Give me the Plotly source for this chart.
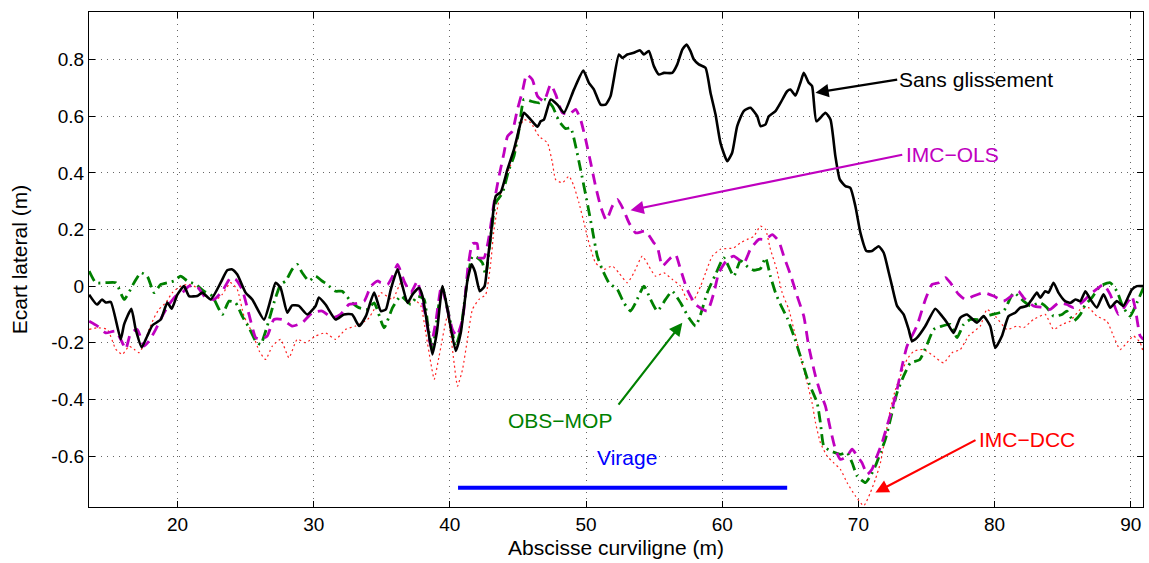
import plotly.graph_objects as go

# ---- Sans glissement (black, solid)
x_sans = [13.51,14.09,14.46,14.73,15.10,15.83,16.08,16.61,16.93,17.37,17.78,18.15,18.77,19.25,19.57,19.99,20.48,20.84,21.45,21.82,22.44,23.17,23.65,24.02,24.39,25.00,25.49,26.35,26.84,27.20,27.57,28.06,28.42,28.91,29.52,30.14,30.38,30.87,31.61,32.22,32.82,33.34,33.83,34.44,34.93,35.30,35.66,36.16,36.52,36.89,37.26,37.74,37.99,38.36,38.72,39.04,39.46,39.82,40.43,40.80,41.29,41.60,41.85,42.20,42.55,42.80,43.00,43.37,43.74,44.23,44.71,45.20,45.44,45.94,46.43,46.67,46.91,47.40,47.89,48.38,49.11,49.80,50.21,50.58,51.07,51.44,51.80,52.41,52.66,53.03,53.51,53.95,54.25,54.61,54.98,55.35,55.72,56.33,56.70,57.07,57.38,57.67,57.92,58.28,58.77,59.14,59.51,59.87,60.37,60.73,61.10,61.58,62.07,62.57,62.81,63.18,63.42,63.91,64.28,64.77,65.01,65.38,65.74,65.99,66.35,66.60,66.92,67.58,67.95,68.31,68.63,69.05,69.41,69.78,70.15,70.59,71.00,71.49,71.86,72.22,72.47,72.84,73.32,73.69,73.94,74.31,74.92,75.65,76.14,76.51,76.99,77.48,77.97,78.71,79.19,79.68,80.05,80.54,81.03,81.52,81.89,82.38,82.74,83.11,83.35,83.72,83.96,84.33,84.69,85.18,85.58,85.94,86.30,86.67,87.04,87.51,88.00,88.49,88.98,89.46,90.08,90.45,90.93]
y_sans = [-0.03,-0.065,-0.047,-0.058,-0.056,-0.188,-0.135,-0.08,-0.153,-0.216,-0.176,-0.139,-0.118,-0.058,-0.08,-0.03,0.0,-0.035,-0.035,-0.023,-0.047,0.012,0.056,0.059,0.041,-0.023,-0.047,-0.118,-0.047,0.012,-0.006,-0.094,-0.068,-0.07,-0.1,-0.07,-0.04,-0.065,-0.118,-0.1,-0.1,-0.141,-0.106,-0.023,-0.088,-0.082,-0.012,0.059,0.0,-0.059,-0.029,-0.006,-0.035,-0.141,-0.241,-0.165,0.0,-0.082,-0.229,-0.165,0.02,0.077,0.05,-0.018,0.0,0.1,0.176,0.318,0.332,0.412,0.483,0.577,0.612,0.588,0.563,0.582,0.588,0.659,0.641,0.612,0.694,0.761,0.718,0.694,0.641,0.641,0.671,0.818,0.806,0.818,0.824,0.833,0.818,0.83,0.777,0.747,0.753,0.753,0.783,0.835,0.853,0.83,0.8,0.783,0.771,0.683,0.606,0.506,0.441,0.471,0.565,0.618,0.63,0.6,0.565,0.571,0.6,0.618,0.647,0.688,0.694,0.673,0.718,0.753,0.718,0.706,0.582,0.612,0.588,0.459,0.377,0.353,0.347,0.282,0.188,0.124,0.124,0.141,0.118,0.05,0.0,-0.07,-0.1,-0.153,-0.194,-0.182,-0.141,-0.08,-0.106,-0.129,-0.165,-0.112,-0.1,-0.129,-0.106,-0.141,-0.218,-0.176,-0.106,-0.094,-0.076,-0.07,-0.047,-0.023,-0.041,-0.018,-0.023,0.012,-0.023,-0.053,-0.059,-0.047,-0.053,-0.018,-0.047,-0.076,-0.029,-0.076,-0.053,-0.07,-0.012,0.0,0.0]

# ---- IMC-OLS (magenta, dashed)
x_ols = [13.51,14.12,14.73,15.47,15.95,16.20,16.57,17.05,17.54,17.91,18.40,18.88,19.38,19.87,20.35,20.84,21.45,22.07,22.68,23.29,23.90,24.27,24.75,25.25,25.74,26.10,26.59,27.08,27.69,28.42,29.16,29.89,30.62,31.36,31.97,32.58,33.07,33.71,34.20,34.69,34.93,35.42,35.79,36.16,36.64,37.13,37.62,37.87,38.23,38.60,38.97,39.38,39.82,40.19,40.51,40.93,41.34,41.66,42.00,42.14,42.51,42.88,43.24,43.61,43.98,44.23,44.59,44.96,45.33,45.64,46.06,46.43,46.91,47.40,47.77,48.26,48.75,49.24,49.60,49.97,50.34,50.70,51.07,51.49,51.93,52.30,52.74,53.15,53.64,54.37,54.98,55.23,55.60,56.21,56.57,56.94,57.43,58.04,58.90,59.39,59.75,60.37,60.85,61.59,62.07,62.69,63.18,63.67,64.15,64.52,65.01,65.50,65.99,66.35,66.85,67.21,67.58,67.95,68.31,68.68,69.17,69.54,69.91,70.27,70.64,71.00,71.37,71.74,72.10,72.47,72.84,73.21,73.57,74.30,74.92,75.41,75.90,76.39,76.75,77.36,77.85,78.46,79.19,79.93,80.66,81.40,81.76,82.13,82.86,83.60,84.09,84.70,85.31,85.80,86.53,87.02,87.63,88.00,88.49,89.10,89.59,90.08,90.32,90.69,90.93]
y_ols = [-0.124,-0.141,-0.165,-0.159,-0.2,-0.223,-0.165,-0.153,-0.212,-0.194,-0.153,-0.106,-0.065,-0.035,-0.023,0.0,-0.002,-0.041,-0.047,-0.018,0.03,0.024,-0.012,-0.1,-0.182,-0.188,-0.176,-0.118,-0.118,-0.141,-0.129,-0.094,-0.088,-0.112,-0.1,-0.065,-0.062,-0.053,0.0,0.018,0.012,0.006,0.035,0.077,0.018,-0.023,0.018,-0.035,-0.106,-0.212,-0.124,0.0,-0.082,-0.153,-0.176,-0.118,0.07,0.15,0.15,0.1,0.1,0.176,0.294,0.388,0.471,0.529,0.547,0.624,0.688,0.747,0.729,0.671,0.653,0.712,0.677,0.612,0.606,0.624,0.588,0.518,0.436,0.353,0.282,0.233,0.282,0.306,0.271,0.224,0.188,0.194,0.153,0.141,0.071,0.1,0.112,0.059,-0.012,-0.065,-0.088,-0.023,0.047,0.094,0.106,0.082,0.13,0.165,0.165,0.182,0.159,0.106,0.041,-0.035,-0.106,-0.212,-0.318,-0.376,-0.424,-0.506,-0.576,-0.612,-0.6,-0.576,-0.6,-0.624,-0.665,-0.647,-0.6,-0.553,-0.494,-0.435,-0.365,-0.282,-0.212,-0.14,-0.047,0.006,0.012,0.03,0.012,-0.029,-0.047,-0.035,-0.023,-0.035,-0.053,-0.029,-0.018,-0.041,-0.07,-0.076,-0.082,-0.059,-0.065,-0.076,-0.053,-0.029,-0.006,0.006,-0.029,-0.1,-0.07,-0.035,-0.076,-0.176,-0.188]

# ---- OBS-MOP (green, dash-dot)
x_mop = [13.51,14.00,14.73,15.47,16.08,16.81,17.30,17.78,18.28,18.77,19.25,19.74,20.23,20.72,21.34,21.94,22.55,23.29,23.78,24.27,24.75,25.25,25.74,26.10,26.59,27.08,27.57,27.94,28.42,28.79,29.16,29.65,30.14,30.62,30.99,31.61,32.09,32.82,33.31,33.95,34.44,35.17,35.79,36.40,37.13,37.62,38.11,38.36,38.72,39.21,39.46,39.95,40.43,40.80,41.29,41.66,42.02,42.39,42.63,43.00,43.37,43.86,44.34,44.71,45.08,45.44,45.94,46.55,47.04,47.53,48.02,48.51,48.87,49.24,49.60,50.09,50.46,50.83,51.19,51.68,52.30,52.78,53.27,53.64,54.25,54.74,55.23,55.84,56.33,56.94,57.55,58.04,58.41,58.90,59.51,60.12,60.85,61.34,61.95,62.32,62.81,63.18,63.54,63.91,64.28,64.77,65.26,65.74,66.35,66.97,67.21,67.46,67.95,68.68,69.17,69.54,69.91,70.52,70.88,71.25,71.62,71.98,72.35,72.84,73.32,73.82,74.50,75.04,75.53,76.14,76.75,77.24,77.73,78.22,78.83,79.32,80.66,81.40,82.13,82.62,83.35,83.85,84.33,84.95,85.31,85.80,86.30,86.67,87.15,87.76,88.49,88.98,89.46,89.95,90.45,90.93]
y_mop = [0.053,0.012,0.012,0.012,-0.047,0.012,0.047,0.035,-0.023,0.006,0.012,0.018,0.035,0.018,0.006,-0.018,-0.035,-0.1,-0.053,-0.059,-0.106,-0.147,-0.194,-0.206,-0.141,-0.059,0.006,0.018,0.059,0.077,0.047,0.018,0.035,0.018,0.006,-0.018,-0.018,-0.059,-0.076,-0.082,-0.059,-0.147,-0.076,-0.035,-0.065,-0.035,-0.047,-0.129,-0.224,-0.059,-0.006,-0.106,-0.212,-0.153,0.024,0.106,0.1,0.082,0.04,0.176,0.294,0.329,0.412,0.459,0.553,0.659,0.653,0.647,0.659,0.635,0.582,0.556,0.559,0.494,0.412,0.294,0.2,0.106,0.059,0.012,-0.012,-0.059,-0.088,-0.059,0.0,-0.047,-0.088,-0.047,-0.018,-0.059,-0.112,-0.141,-0.1,-0.023,0.041,0.1,0.035,0.09,0.065,0.056,0.062,0.1,0.035,-0.023,-0.065,-0.112,-0.176,-0.247,-0.341,-0.412,-0.482,-0.565,-0.582,-0.594,-0.588,-0.624,-0.671,-0.694,-0.671,-0.635,-0.588,-0.541,-0.471,-0.376,-0.318,-0.271,-0.26,-0.206,-0.153,-0.141,-0.135,-0.182,-0.135,-0.118,-0.118,-0.106,-0.088,-0.023,-0.053,-0.07,-0.059,-0.076,-0.106,-0.1,-0.088,-0.124,-0.1,-0.065,-0.041,0.0,0.012,-0.018,-0.076,-0.106,-0.059,-0.006]

# ---- IMC-DCC (red, dotted)
x_dcc = [13.51,14.12,14.85,15.47,15.95,16.44,16.81,17.18,17.54,17.91,18.28,18.64,19.13,19.62,20.23,20.84,21.45,22.07,22.68,23.29,23.90,24.39,24.88,25.49,26.00,26.47,26.96,27.57,28.18,28.79,29.41,30.14,30.87,31.61,32.34,33.07,33.95,34.44,34.93,35.79,36.40,36.89,37.38,37.87,38.23,38.60,38.85,39.21,39.82,40.07,40.31,40.56,40.93,41.29,41.66,42.14,42.63,43.00,43.24,43.61,43.98,44.34,44.71,45.08,45.44,45.94,46.55,47.16,47.53,47.77,48.26,48.75,49.11,49.48,49.85,50.21,50.70,51.31,51.93,52.41,53.03,53.51,54.13,54.61,55.11,55.72,56.33,56.94,57.43,57.92,58.41,58.78,59.27,59.87,60.85,61.34,61.84,62.32,62.81,63.18,63.54,64.00,64.40,64.89,65.26,65.74,66.23,66.60,66.85,67.21,67.70,68.19,68.68,69.17,69.78,70.39,70.88,71.25,71.62,71.98,72.35,72.72,73.08,73.57,74.06,74.79,75.53,76.26,76.88,77.48,78.09,78.95,79.44,80.05,80.91,81.64,82.13,82.86,83.72,84.33,84.95,85.55,86.30,86.90,87.51,88.25,88.73,89.22,89.72,90.20,90.69,90.93]
y_dcc = [-0.153,-0.147,-0.153,-0.223,-0.241,-0.212,-0.223,-0.235,-0.206,-0.153,-0.112,-0.082,-0.059,-0.023,0.0,0.006,-0.006,-0.035,-0.053,-0.029,0.012,-0.012,-0.106,-0.165,-0.229,-0.259,-0.212,-0.188,-0.253,-0.188,-0.2,-0.176,-0.165,-0.188,-0.153,-0.141,-0.118,-0.082,-0.023,-0.047,0.012,-0.059,-0.047,-0.07,-0.165,-0.271,-0.329,-0.247,-0.106,-0.176,-0.271,-0.353,-0.294,-0.188,-0.082,-0.047,-0.03,0.082,0.2,0.306,0.365,0.412,0.459,0.553,0.588,0.577,0.529,0.506,0.436,0.376,0.365,0.388,0.353,0.294,0.224,0.153,0.082,0.059,0.071,0.047,0.012,0.047,0.106,0.071,0.035,0.047,0.024,0.0,-0.047,-0.047,0.0,0.047,0.106,0.13,0.135,0.153,0.165,0.176,0.212,0.2,0.13,0.06,-0.023,-0.082,-0.153,-0.247,-0.341,-0.412,-0.482,-0.553,-0.6,-0.624,-0.647,-0.694,-0.741,-0.776,-0.729,-0.682,-0.624,-0.529,-0.435,-0.365,-0.318,-0.259,-0.23,-0.224,-0.247,-0.271,-0.235,-0.224,-0.176,-0.141,-0.082,-0.106,-0.153,-0.141,-0.147,-0.118,-0.1,-0.153,-0.135,-0.124,-0.082,-0.076,-0.106,-0.124,-0.176,-0.224,-0.2,-0.176,-0.2,-0.235]

# ---- Virage segment
x_virage = [40.6, 64.77]
y_virage = [-0.712, -0.712]

x_ticks = [20, 30, 40, 50, 60, 70, 80, 90]
y_ticks = [-0.6, -0.4, -0.2, 0, 0.2, 0.4, 0.6, 0.8]
y_ticktext = ["-0.6", "-0.4", "-0.2", "0", "0.2", "0.4", "0.6", "0.8"]

FONT = "Liberation Sans, Arial, Helvetica, sans-serif"
MAG = "#bf00bf"
GRN = "#008000"
TXT = 21

fig = go.Figure()
fig.add_trace(go.Scatter(x=x_dcc, y=y_dcc, mode="lines", line_shape="spline",
                         line=dict(color="#ff2020", width=1.2, dash="2px,3px", smoothing=0.5)))
fig.add_trace(go.Scatter(x=x_mop, y=y_mop, mode="lines", line_shape="spline",
                         line=dict(color=GRN, width=2.8, dash="11px,5px,2px,5px", smoothing=0.5)))
fig.add_trace(go.Scatter(x=x_ols, y=y_ols, mode="lines", line_shape="spline",
                         line=dict(color=MAG, width=2.8, dash="11px,7px", smoothing=0.5)))
fig.add_trace(go.Scatter(x=x_sans, y=y_sans, mode="lines", line_shape="spline",
                         line=dict(color="black", width=2.6, smoothing=0.5)))
fig.add_trace(go.Scatter(x=x_virage, y=y_virage, mode="lines",
                         line=dict(color="#0000ff", width=4)))

def arrow(xh, yh, xt, yt, color):
    fig.add_annotation(x=xh, y=yh, ax=xt, ay=yt, xref="x", yref="y",
                       axref="x", ayref="y", text="", showarrow=True,
                       arrowhead=2, arrowsize=1.2, arrowwidth=2.2,
                       arrowcolor=color)

def label(x, y, text, color, anchor="left"):
    fig.add_annotation(x=x, y=y, xref="x", yref="y", text=text,
                       showarrow=False, xanchor=anchor, yanchor="middle",
                       borderpad=0,
                       font=dict(family=FONT, size=TXT, color=color))

arrow(66.85, 0.683, 72.96, 0.730, "black")
label(72.9, 0.730, "Sans glissement", "black")
arrow(53.27, 0.268, 73.33, 0.465, MAG)
label(73.45, 0.465, "IMC−OLS", MAG)
arrow(57.07, -0.129, 52.30, -0.424, GRN)
label(48.06, -0.474, "OBS−MOP", GRN, "center")
arrow(71.25, -0.729, 78.71, -0.541, "#ff0000")
label(78.75, -0.541, "IMC−DCC", "#ff0000")
label(52.98, -0.605, "Virage", "#0000ff", "center")

axis_common = dict(showline=True, linecolor="black", linewidth=1.2, mirror="ticks",
                   ticks="inside", ticklen=6, tickcolor="black",
                   showgrid=True, gridcolor="rgba(0,0,0,0.6)", griddash="1px,5px", gridwidth=1,
                   zeroline=False,
                   tickfont=dict(family=FONT, size=19, color="black"))

fig.update_xaxes(range=[13.5, 90.9], tickvals=x_ticks,
                 title=dict(text="Abscisse curviligne (m)", standoff=6,
                            font=dict(family=FONT, size=TXT, color="black")),
                 **axis_common)
fig.update_yaxes(range=[-0.78, 0.968], tickvals=y_ticks, ticktext=y_ticktext,
                 title=dict(text="Ecart lateral (m)", standoff=17,
                            font=dict(family=FONT, size=TXT, color="black")),
                 **axis_common)

fig.update_layout(width=1149, height=563, showlegend=False,
                  paper_bgcolor="white", plot_bgcolor="white",
                  margin=dict(l=89, r=6, t=12, b=56, autoexpand=False))

fig.write_html("out.html", config={"displayModeBar": False},
               post_script="document.body.style.margin='0';document.body.style.overflow='hidden';")
